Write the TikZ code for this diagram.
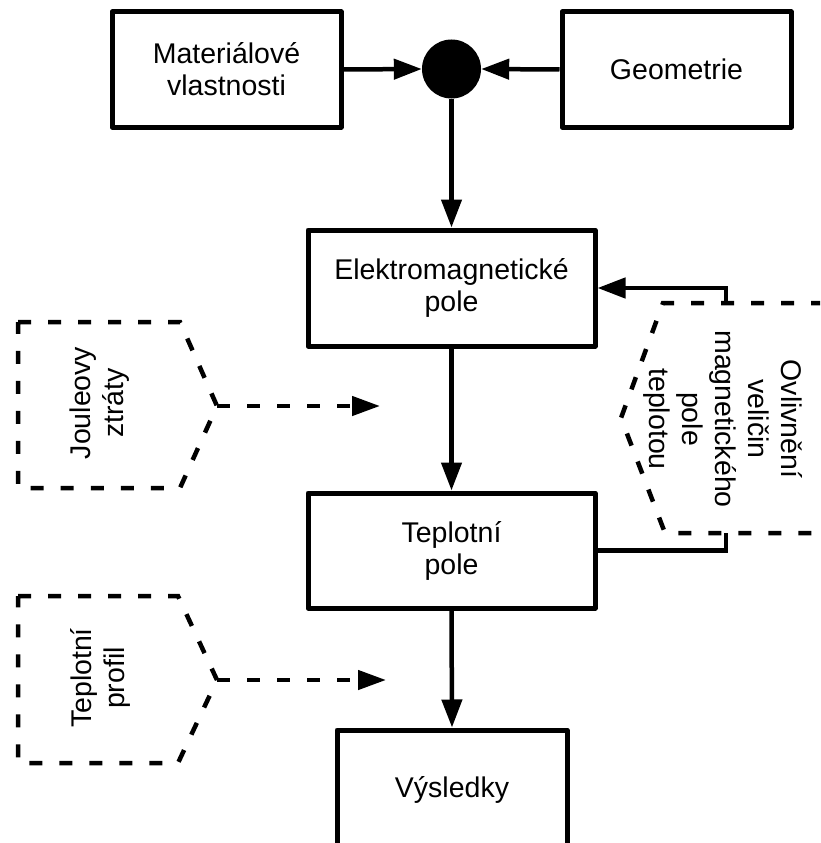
\documentclass[tikz,border=0pt]{standalone}
\usepackage{fontspec}
\setmainfont{Liberation Sans}
\usetikzlibrary{arrows.meta}

\tikzset{
  block/.style={draw, line width=5pt, line join=round, align=center,
    inner sep=0pt, font=\fontsize{28.5}{32}\selectfont},
  note/.style={align=center, inner sep=0pt, font=\fontsize{28.5}{33}\selectfont},
  flow/.style={line width=4.5pt, -{Triangle[length=28pt,width=20pt]}},
  link/.style={line width=4.5pt},
  dashflow/.style={line width=4.5pt, dash pattern=on 13pt off 17pt,
    -{Triangle[length=28pt,width=19pt]}},
  outline/.style={line width=4.5pt, dash pattern=on 13pt off 17pt, line join=miter},
}

\begin{document}
\begin{tikzpicture}[x=1pt,y=-1pt]
\path[use as bounding box] (0,0) rectangle (820,843);
\clip (0,0) rectangle (820,843);

% main blocks
\node[block, minimum width=229pt, minimum height=115pt] (mat) at (226.5,69.5) {Materiálové\\vlastnosti};
\node[block, minimum width=229pt, minimum height=115pt] (geo) at (676.5,69.5) {Geometrie};
\node[circle, fill=black, minimum size=59pt, inner sep=0pt] (sum) at (451.5,69) {};
\node[block, minimum width=287pt, minimum height=116pt] (em) at (451.5,288) {Elektromagnetické\\pole};
\node[block, minimum width=287pt, minimum height=115pt] (tep) at (451.5,550.5) {Teplotní\\pole};
\node[block, minimum width=230pt, minimum height=120pt] (vys) at (452,790) {Výsledky};

% main flow
\draw[flow] (mat.east) -- (sum.west);
\draw[flow] (geo.west) -- (sum.east);
\draw[flow] (sum.south) -- (em.north);
\draw[flow] (em.south) -- (tep.north);
\draw[flow] (tep.south) -- (vys.north);

% dashed annotation shapes
\draw[outline] (18,322) -- (180,322) -- (217,406) -- (180,488) -- (18,488) -- cycle;
\coordinate (jtip) at (217,406);
\coordinate (jend) at (380,406);
\node[note, rotate=90] (joule) at (100,403) {Jouleovy\\ztráty};

\draw[outline] (18,596) -- (178,596) -- (217,680) -- (178,763) -- (18,763) -- cycle;
\coordinate (ptip) at (217,680);
\coordinate (pend) at (386,680);
\node[note, rotate=90] (profil) at (100,678) {Teplotní\\profil};

\draw[outline] (824,303) -- (663,303) -- (621,418) -- (665,533) -- (824,533);
\coordinate (ftop) at (726,303);
\coordinate (fbot) at (726,533);
\node[note, rotate=-90] (vliv) at (723,419) {Ovlivnění\\veličin\\magnetického\\pole\\teplotou};

% dashed arrows
\draw[dashflow] (jtip) -- (jend);
\draw[dashflow] (ptip) -- (pend);

% feedback loop
\draw[link] (tep.east) -| (fbot);
\draw[flow] (ftop) |- (em.east);
\end{tikzpicture}
\end{document}
